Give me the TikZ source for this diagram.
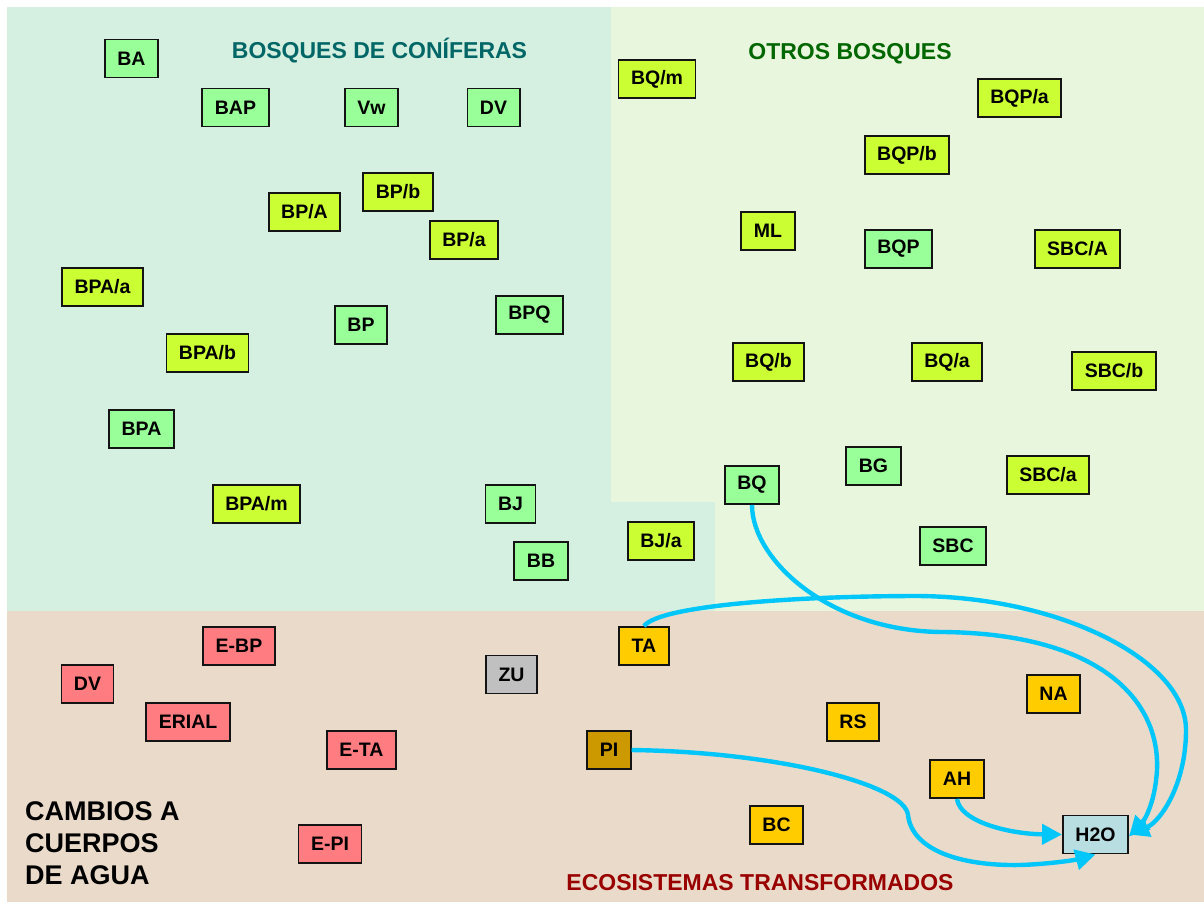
\documentclass[tikz,border=0pt]{standalone}
\usepackage{fontspec}
\setmainfont{Liberation Sans}
\usetikzlibrary{arrows.meta}
\definecolor{conbg}{RGB}{213,240,224}
\definecolor{otrbg}{RGB}{233,246,222}
\definecolor{tanbg}{RGB}{234,218,202}
\definecolor{lgreen}{RGB}{153,255,153}
\definecolor{ygreen}{RGB}{204,255,51}
\definecolor{pinkred}{RGB}{255,124,128}
\definecolor{orangey}{RGB}{255,204,0}
\definecolor{brownish}{RGB}{204,153,0}
\definecolor{grayzu}{RGB}{192,192,192}
\definecolor{waterbox}{RGB}{185,222,226}
\definecolor{arrowcyan}{RGB}{0,198,250}
\definecolor{tealtitle}{RGB}{0,102,102}
\definecolor{greentitle}{RGB}{0,102,0}
\definecolor{redtitle}{RGB}{153,0,0}
\definecolor{boxline}{RGB}{20,20,20}
\begin{document}
\begin{tikzpicture}[x=1pt,y=-1pt,
  box/.style={draw=boxline,line width=1.9pt,minimum height=38pt,inner xsep=12.5pt,inner ysep=0pt,
    font=\fontsize{19.5}{23}\selectfont\bfseries},
  lg/.style={box,fill=lgreen},
  yg/.style={box,fill=ygreen},
  pr/.style={box,fill=pinkred},
  og/.style={box,fill=orangey},
  title/.style={font=\fontsize{23}{27}\selectfont\bfseries,inner sep=0pt},
  flow/.style={draw=arrowcyan,line width=4.4pt,-{Triangle[length=20pt,width=20pt]}}
]
\useasboundingbox (0,0) rectangle (1204,903);
\fill[white] (0,0) rectangle (1204,903);
% regions
\fill[conbg] (7,7) rectangle (611,611);
\fill[conbg] (611,502) rectangle (715,611);
\fill[otrbg] (611,7) rectangle (1204,502);
\fill[otrbg] (715,502) rectangle (1204,611);
\fill[tanbg] (7,611) rectangle (1204,902);
% titles
\node[title,text=tealtitle] (tcon) at (379.5,51) {BOSQUES DE CONÍFERAS};
\node[title,text=greentitle] (totr) at (850,54) {OTROS BOSQUES};
\node[title,text=redtitle] (teco) at (760,883) {ECOSISTEMAS TRANSFORMADOS};
\node[anchor=north west,inner sep=0pt,align=left,font=\fontsize{27}{32}\selectfont\bfseries] (tcam) at (25,801) {CAMBIOS A\\CUERPOS\\DE AGUA};
% conifer nodes
\node[lg] (BA) at (131.5,58.5) {BA};
\node[lg] (BAP) at (235.5,107.5) {BAP};
\node[lg] (Vw) at (371.5,107.5) {Vw};
\node[lg] (DVc) at (493.5,107.5) {DV};
\node[yg] (BPb) at (398,192) {BP/b};
\node[yg] (BPA1) at (304.5,212) {BP/A};
\node[yg] (BPa) at (464,240) {BP/a};
\node[yg] (BPAa) at (102.5,287) {BPA/a};
\node[lg] (BP) at (361,325) {BP};
\node[lg] (BPQ) at (529.5,315) {BPQ};
\node[yg] (BPAb) at (207.5,353) {BPA/b};
\node[lg] (BPA) at (141.5,429) {BPA};
\node[yg] (BPAm) at (256.5,504) {BPA/m};
\node[lg] (BJ) at (510.5,504) {BJ};
\node[lg] (BB) at (541,561) {BB};
\node[yg] (BJa) at (661,541) {BJ/a};
% other forest nodes
\node[yg] (BQm) at (657,79) {BQ/m};
\node[yg] (BQPa) at (1019.5,98) {BQP/a};
\node[yg] (BQPb) at (907,155) {BQP/b};
\node[yg] (ML) at (768,231) {ML};
\node[lg] (BQP) at (898.5,249) {BQP};
\node[yg] (SBCA) at (1077.5,249) {SBC/A};
\node[yg] (BQb) at (768.5,362) {BQ/b};
\node[yg] (BQa) at (947,362) {BQ/a};
\node[yg] (SBCb) at (1114,371) {SBC/b};
\node[lg] (BG) at (873.5,466) {BG};
\node[yg] (SBCa) at (1048,475) {SBC/a};
\node[lg] (BQ) at (752,485) {BQ};
\node[lg] (SBC) at (953,546) {SBC};
% transformed
\node[pr] (EBP) at (239,646) {E-BP};
\node[pr] (DVe) at (87.5,684) {DV};
\node[pr] (ERIAL) at (188,722) {ERIAL};
\node[pr] (ETA) at (361.5,750) {E-TA};
\node[pr] (EPI) at (330,844) {E-PI};
\node[box,fill=grayzu] (ZU) at (511.5,674.5) {ZU};
\node[og] (TA) at (644,646) {TA};
\node[box,fill=brownish] (PI) at (609,750) {PI};
\node[og] (RS) at (853,722) {RS};
\node[og] (NA) at (1053.5,694) {NA};
\node[og] (AH) at (957,779) {AH};
\node[og] (BC) at (776.5,825) {BC};
\node[box,fill=waterbox] (H2O) at (1095.5,834.5) {H2O};
% flows
\draw[flow] (BQ.south) .. controls (752,560) and (830,632) .. (944,632)
  .. controls (1100,634) and (1160,700) .. (1157,770)
  .. controls (1155,805) and (1143,822) .. ([yshift=-2pt]H2O.east);
\draw[flow] (TA.north) .. controls (660,605) and (800,596) .. (918,596)
  .. controls (1060,597) and (1186,660) .. (1186,730)
  .. controls (1186,785) and (1160,822) .. (H2O.east);
\draw[flow] (PI.east) .. controls (780,752) and (905,785) .. (908,815)
  .. controls (912,850) and (960,866) .. (1020,865)
  .. controls (1050,864) and (1075,860) .. (H2O.south);
\draw[flow] (AH.south) .. controls (960,822) and (1010,834) .. (H2O.west);
\end{tikzpicture}
\end{document}
